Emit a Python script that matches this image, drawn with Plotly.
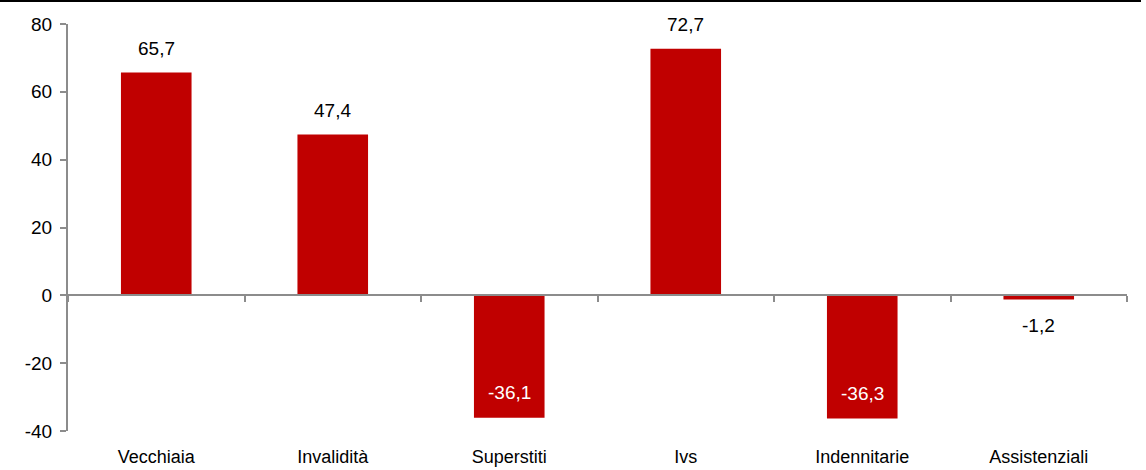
import plotly.graph_objects as go

categories = ["Vecchiaia", "Invalidità", "Superstiti", "Ivs", "Indennitarie", "Assistenziali"]
values = [65.7, 47.4, -36.1, 72.7, -36.3, -1.2]
y_ticks = [-40, -20, 0, 20, 40, 60, 80]
y_tick_text = ["-40", "-20", "0", "20", "40", "60", "80"]

BAR = "#C00000"
AX = "#8c8c8c"
FONT = "Liberation Sans, Arial, sans-serif"

fig = go.Figure()
fig.add_trace(go.Bar(x=categories, y=values, marker=dict(color=BAR, line=dict(width=0)),
                     width=0.4, hoverinfo="skip"))

def fmt(v):
    return f"{v:.1f}".replace(".", ",")

annotations = []
for c, v in zip(categories, values):
    if v >= 0:
        annotations.append(dict(x=c, y=v, text=fmt(v), showarrow=False, yanchor="middle",
                                yshift=24, font=dict(family=FONT, size=19, color="black")))
    elif v < -10:
        annotations.append(dict(x=c, y=v, text=fmt(v), showarrow=False, yanchor="middle",
                                yshift=25, font=dict(family=FONT, size=19, color="white")))
    else:
        annotations.append(dict(x=c, y=v, text=fmt(v), showarrow=False, yanchor="middle",
                                yshift=-26, font=dict(family=FONT, size=19, color="black")))

fig.update_layout(
    width=1146, height=470,
    margin=dict(l=68, r=19, t=24, b=39, autoexpand=False),
    plot_bgcolor="white", paper_bgcolor="white",
    showlegend=False,
    font=dict(family=FONT, size=18, color="black"),
    annotations=annotations,
    xaxis=dict(type="category", range=[-0.5, 5.5], showline=False, ticks="",
               showgrid=False, zeroline=False, tickfont=dict(size=18),
               ticklabelstandoff=13, automargin=False),
    xaxis2=dict(overlaying="x", anchor="free", position=1/3, range=[-0.5, 5.5],
                showline=True, linecolor=AX, linewidth=2, ticks="outside",
                tickcolor=AX, tickwidth=2, ticklen=6,
                tickvals=[-0.5, 0.5, 1.5, 2.5, 3.5, 4.5, 5.5],
                showticklabels=False, showgrid=False, zeroline=False),
    yaxis=dict(range=[-40, 80], tickvals=y_ticks, ticktext=y_tick_text, showline=True,
               linecolor=AX, linewidth=2, ticks="outside", tickcolor=AX, tickwidth=2,
               ticklen=6, showgrid=False, zeroline=False, tickfont=dict(size=19),
               ticklabelstandoff=4, automargin=False),
    shapes=[dict(type="line", xref="paper", yref="paper", x0=-68/1059, x1=1073/1059,
                 y0=1 + 23/407, y1=1 + 23/407, line=dict(color="black", width=2))],
)
# invisible trace to activate xaxis2
fig.add_trace(go.Scatter(x=[-0.5, 5.5], y=[0, 0], xaxis="x2", mode="lines",
                         line=dict(width=0), hoverinfo="skip", showlegend=False))

fig.write_html("out.html", config={"displayModeBar": False},
               post_script="document.body.style.margin='0';document.body.style.padding='0';")
